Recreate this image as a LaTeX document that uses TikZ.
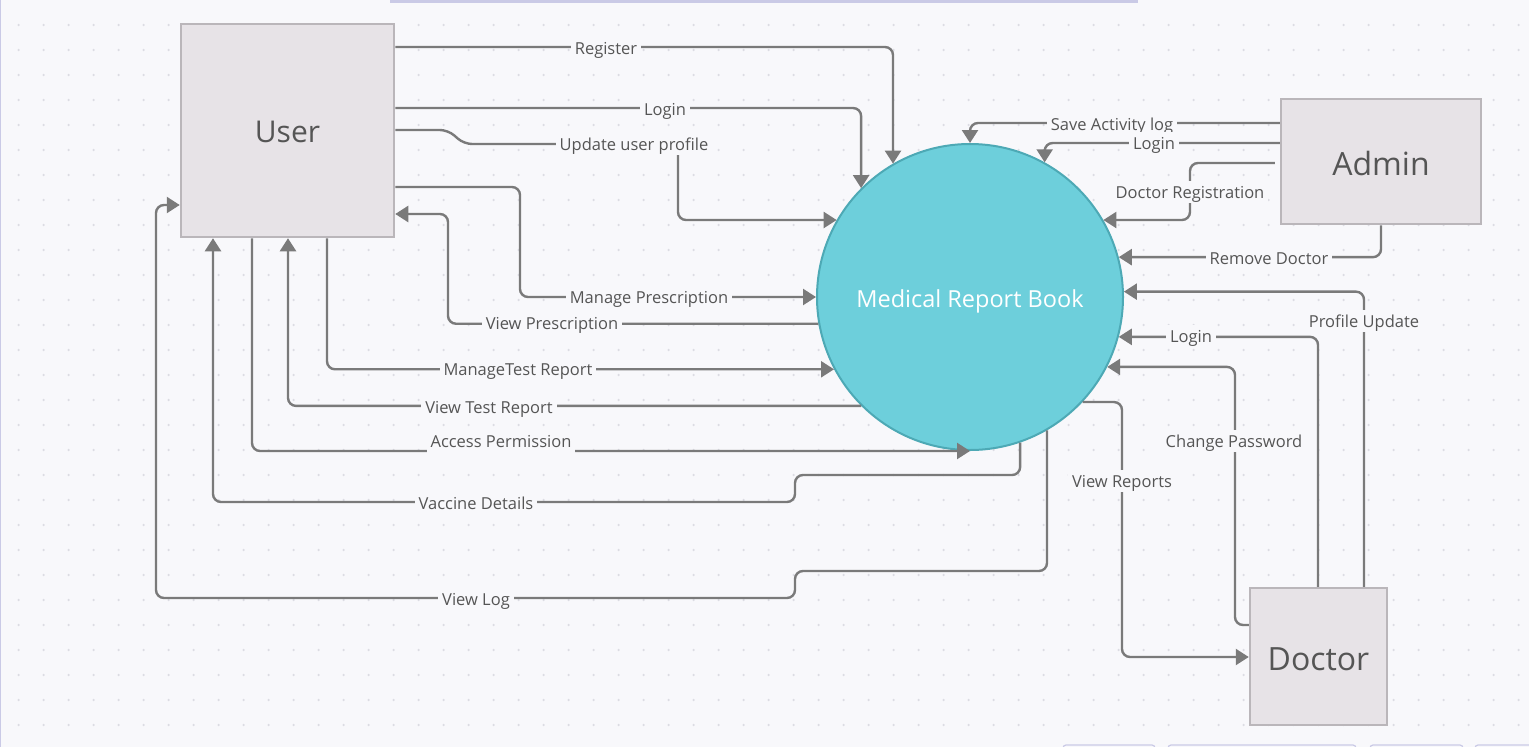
\documentclass[tikz,border=0pt]{standalone}
\usepackage{fontspec}
\setmainfont{Open Sans}
\usetikzlibrary{arrows.meta}
\definecolor{bgcol}{HTML}{F8F8FB}
\definecolor{dotcol}{HTML}{DCDCE3}
\definecolor{linecol}{HTML}{7A7A7A}
\definecolor{txtcol}{HTML}{555555}
\definecolor{boxfill}{HTML}{E7E3E7}
\definecolor{boxline}{HTML}{BAB6BA}
\definecolor{procfill}{HTML}{6DCFDB}
\definecolor{procline}{HTML}{4DA9B5}
\definecolor{uicol}{HTML}{CACAE6}
\tikzset{
	entity/.style={draw=boxline, fill=boxfill, line width=2.5pt, text=txtcol, text height=27.5pt, text depth=0pt, font=\fontsize{32}{36}\selectfont},
	process/.style={circle, draw=procline, fill=procfill, line width=2pt, minimum size=306pt, text=white, text height=21pt, text depth=0pt, font=\fontsize{23.5}{26}\selectfont},
	flow/.style={draw=linecol, line width=2.4pt, rounded corners=8pt, -{Triangle[length=13pt,width=16pt]}},
	lbl/.style={fill=bgcol, text=txtcol, inner xsep=4pt, inner ysep=3pt, text height=14pt, text depth=1.5pt, font=\fontsize{16.5}{18}\selectfont}
}

\begin{document}
\begin{tikzpicture}[x=1pt, y=-1pt]
		%%%%% START %%%%%
		\useasboundingbox (0, 0) rectangle (1529, 747);
		\fill[bgcol] (0, 0) rectangle (1529, 747);
		\foreach \i in {0,...,60}
			\foreach \j in {1,...,29}
				\fill[dotcol] (18.6+25*\i, 25*\j) circle (1.3);
		
		\fill[uicol] (390, 0) rectangle (1138, 3);
		\draw[uicol, line width=1pt] (0.5, 0) -- (0.5, 747);
		\draw[uicol, line width=1.2pt, rounded corners=3pt] (1063, 752) -- (1063, 745) -- (1155, 745) -- (1155, 752);
		\draw[uicol, line width=1.2pt, rounded corners=3pt] (1168, 752) -- (1168, 745) -- (1356, 745) -- (1356, 752);
		\draw[uicol, line width=1.2pt, rounded corners=3pt] (1370, 752) -- (1370, 745) -- (1463, 745) -- (1463, 752);
		\draw[uicol, line width=1.2pt, rounded corners=3pt] (1475, 752) -- (1475, 745) -- (1545, 745);
		
		\node[entity, minimum width=213, minimum height=213, text height=23.5pt, font=\fontsize{30}{34}\selectfont] (user) at (287.5, 130.5) {User};
		\node[entity, minimum width=200, minimum height=125] (admin) at (1381, 161.5) {Admin};
		\node[entity, minimum width=137, minimum height=137] (doctor) at (1318.5, 656.5) {Doctor};
		\node[process] (mrb) at (970, 297) {Medical Report Book};
		
		% user side
		\draw[flow] (user.east |- 0,47) -| (mrb.120);
		\draw[flow] (user.east |- 0,108) -| (mrb.135);
		\draw[flow] (user.east |- 0,130) -- (448, 130) -- (464, 144) -- (678, 144) |- (mrb.150);
		\draw[flow] (user.east |- 0,187) -- (520, 187) |- (mrb.west);
		\draw[flow] (mrb.190) -| (448, 214) -- (user.east |- 0,214);
		\draw[flow] (user.south -| 327,0) |- (mrb.208);
		\draw[flow] (mrb.225) -| (user.south -| 288,0);
		\draw[flow] (user.south -| 252,0) |- (mrb.south);
		\draw[flow] (mrb.289) |- (795, 475) -- (795, 502) -| (user.south -| 213,0);
		\draw[flow] (mrb.300) |- (795, 571) -- (795, 598) -| (156, 205) -- (user.west |- 0,205);
		
		% admin side
		\draw[flow] (admin.west |- 0,123) -| (mrb.north);
		\draw[flow] (admin.west |- 0,143) -| (mrb.61);
		\draw[flow] ([xshift=-5]admin.west |- 0,163) -- (1190, 163) |- (mrb.30);
		\draw[flow] (admin.south) |- (mrb.15);
		
		% doctor side
		\draw[flow] (doctor.north -| 1364,0) |- (mrb.2);
		\draw[flow] (doctor.north -| 1318,0) |- (mrb.345);
		\draw[flow] (doctor.west |- 0,625) -- (1235, 625) |- (mrb.333);
		\draw[flow] (mrb.317) -- (1122, 0 |- mrb.317) |- (doctor.west |- 0,657);
		
		\node[lbl] (tRegister) at (606, 48) {Register};
		\node[lbl] (tLoginU) at (665, 109) {Login};
		\node[lbl] (tProfileU) at (634, 144) {Update user profile};
		\node[lbl] (tManPres) at (649, 297) {Manage Prescription};
		\node[lbl] (tViewPres) at (552, 323) {View Prescription};
		\node[lbl] (tManTest) at (518, 369) {ManageTest Report};
		\node[lbl] (tViewTest) at (489, 407) {View Test Report};
		\node[lbl, minimum height=27] (tAccess) at (501, 441) {Access Permission};
		\node[lbl] (tVaccine) at (476, 503) {Vaccine Details};
		\node[lbl] (tLog) at (476, 599) {View Log};
		\node[lbl] (tActivity) at (1112, 124) {Save Activity log};
		\node[lbl] (tLoginA) at (1154, 143) {Login};
		\node[lbl] (tDocReg) at (1190, 192) {Doctor Registration};
		\node[lbl] (tRemove) at (1269, 258) {Remove Doctor};
		\node[lbl] (tProfileD) at (1364, 321) {Profile Update};
		\node[lbl] (tLoginD) at (1191, 336) {Login};
		\node[lbl] (tPassword) at (1234, 441) {Change Password};
		\node[lbl] (tReports) at (1122, 481) {View Reports};
		%%%%% END %%%%%
\end{tikzpicture}
\end{document}
